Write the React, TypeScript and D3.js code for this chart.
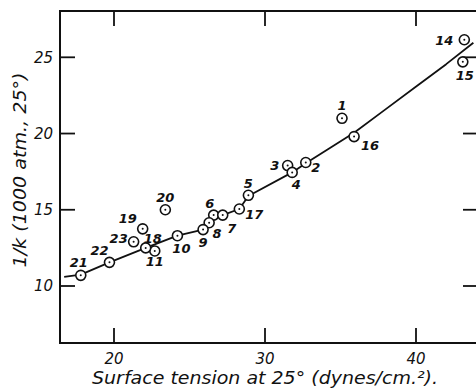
import { useRef, useEffect } from "react";
import * as d3 from "d3";

// Measured points (numbered as in the original figure)
const pointIds = [1, 2, 3, 4, 5, 6, 7, 8, 9, 10, 11, 14, 15, 16, 17, 18, 19, 20, 21, 22, 23];
const surfaceTension = [35.1, 32.7, 31.5, 31.8, 28.9, 26.6, 27.2, 26.3, 25.9, 24.2, 22.7, 43.2, 43.1, 35.9, 28.3, 22.1, 21.9, 23.4, 17.8, 19.7, 21.3];
const invK = [21.0, 18.1, 17.9, 17.45, 15.95, 14.65, 14.65, 14.15, 13.7, 13.3, 12.3, 26.15, 24.7, 19.8, 15.05, 12.5, 13.75, 15.0, 10.7, 11.55, 12.9];

// Fitted curve
const curveX = [16.7, 17.8, 19.7, 22.1, 24.2, 25.9, 26.3, 26.6, 27.2, 28.3, 28.9, 31.8, 32.7, 34.3, 35.9, 38.0, 40.1, 42.0, 43.8];
const curveY = [10.6, 10.75, 11.55, 12.5, 13.3, 13.7, 14.15, 14.6, 14.65, 15.05, 15.9, 17.45, 18.05, 19.05, 20.05, 21.6, 23.15, 24.55, 25.95];

const xTicks = [20, 30, 40];
const yTicks = [10, 15, 20, 25];

// label offsets (px) from each point, same order as pointIds
const labelOffsets: [number, number][] = [
  [0, -13], [10, 5], [-13, 0], [4, 12], [0, -12], [-4, -12], [9, 13], [8, 11], [0, 13], [4, 13], [0, 11],
  [-20, 1], [2, 14], [16, 9], [15, 5], [7, -9], [-15, -10], [0, -12], [-2, -13], [-10, -12], [-15, -3],
];

const FONT = "'DejaVu Sans', sans-serif";

const App = () => {
  const svgRef = useRef<SVGSVGElement | null>(null);
  const width = 476;
  const height = 388;

  useEffect(() => {
    if (!svgRef.current) return;
    const svg = d3.select(svgRef.current);
    svg.selectAll("*").remove();

    const frame = { left: 60, right: 478, top: 11, bottom: 343 };

    const x = d3.scaleLinear().domain([20, 40]).range([114, 416]);
    const y = d3.scaleLinear().domain([10, 25]).range([286, 57.3]);

    svg.append("rect").attr("width", width).attr("height", height).attr("fill", "#fff");

    // frame
    svg.append("path")
      .attr("d", `M${frame.right},${frame.top}H${frame.left}V${frame.bottom}H${frame.right}`)
      .attr("stroke", "#111")
      .attr("stroke-width", 2)
      .attr("fill", "none");

    // ticks (inward)
    const tk = svg.append("g").attr("stroke", "#111").attr("stroke-width", 1.8);
    xTicks.forEach((t) => {
      tk.append("line").attr("x1", x(t)).attr("x2", x(t)).attr("y1", frame.bottom).attr("y2", frame.bottom - 15);
      tk.append("line").attr("x1", x(t)).attr("x2", x(t)).attr("y1", frame.top).attr("y2", frame.top + 15);
    });
    yTicks.forEach((t) => {
      tk.append("line").attr("x1", frame.left).attr("x2", frame.left + 15).attr("y1", y(t)).attr("y2", y(t));
      tk.append("line").attr("x1", frame.right).attr("x2", frame.right - 15).attr("y1", y(t)).attr("y2", y(t));
    });

    // tick labels
    const tl = svg.append("g")
      .attr("font-family", FONT)
      .attr("font-style", "italic")
      .attr("font-size", 15)
      .attr("fill", "#111");

    tl.selectAll("text.xt")
      .data(xTicks)
      .enter()
      .append("text")
      .attr("class", "xt")
      .attr("x", (d) => x(d))
      .attr("y", 364)
      .attr("text-anchor", "middle")
      .text((d) => d);

    tl.selectAll("text.yt")
      .data(yTicks)
      .enter()
      .append("text")
      .attr("class", "yt")
      .attr("x", 53)
      .attr("y", (d) => y(d))
      .attr("dy", "0.35em")
      .attr("text-anchor", "end")
      .text((d) => d);

    // axis titles
    svg.append("text")
      .attr("x", 265)
      .attr("y", 384)
      .attr("text-anchor", "middle")
      .attr("font-family", FONT)
      .attr("font-style", "italic")
      .attr("font-size", 17)
      .attr("textLength", 346)
      .attr("lengthAdjust", "spacingAndGlyphs")
      .attr("fill", "#111")
      .text("Surface tension at 25° (dynes/cm.²).");

    svg.append("text")
      .attr("transform", "translate(26,170) rotate(-90)")
      .attr("text-anchor", "middle")
      .attr("font-family", FONT)
      .attr("font-style", "italic")
      .attr("font-size", 17)
      .attr("textLength", 195)
      .attr("lengthAdjust", "spacingAndGlyphs")
      .attr("fill", "#111")
      .text("1/k (1000 atm., 25°)");

    // curve
    const line = d3
      .line<number>()
      .x((_, i) => x(curveX[i]))
      .y((d) => y(d));
    svg.append("path")
      .datum(curveY)
      .attr("d", line)
      .attr("fill", "none")
      .attr("stroke", "#111")
      .attr("stroke-width", 1.8)
      .attr("stroke-linejoin", "round");

    // points
    const pts = svg.append("g")
      .selectAll("g")
      .data(pointIds)
      .enter()
      .append("g")
      .attr("transform", (_, i) => `translate(${x(surfaceTension[i])},${y(invK[i])})`);

    pts.append("circle").attr("r", 5).attr("fill", "#fff").attr("stroke", "#111").attr("stroke-width", 1.6);
    pts.append("circle").attr("r", 1).attr("fill", "#111");

    pts.append("text")
      .attr("x", (_, i) => labelOffsets[i][0])
      .attr("y", (_, i) => labelOffsets[i][1])
      .attr("dy", "0.35em")
      .attr("text-anchor", "middle")
      .attr("font-family", FONT)
      .attr("font-style", "italic")
      .attr("font-weight", "bold")
      .attr("font-size", 13)
      .attr("fill", "#111")
      .text((d) => d);
  }, []);

  return (
    <svg
      ref={svgRef}
      width={width}
      height={height}
      style={{ position: "absolute", left: 0, top: 0, display: "block" }}
    ></svg>
  );
};

export default App;
